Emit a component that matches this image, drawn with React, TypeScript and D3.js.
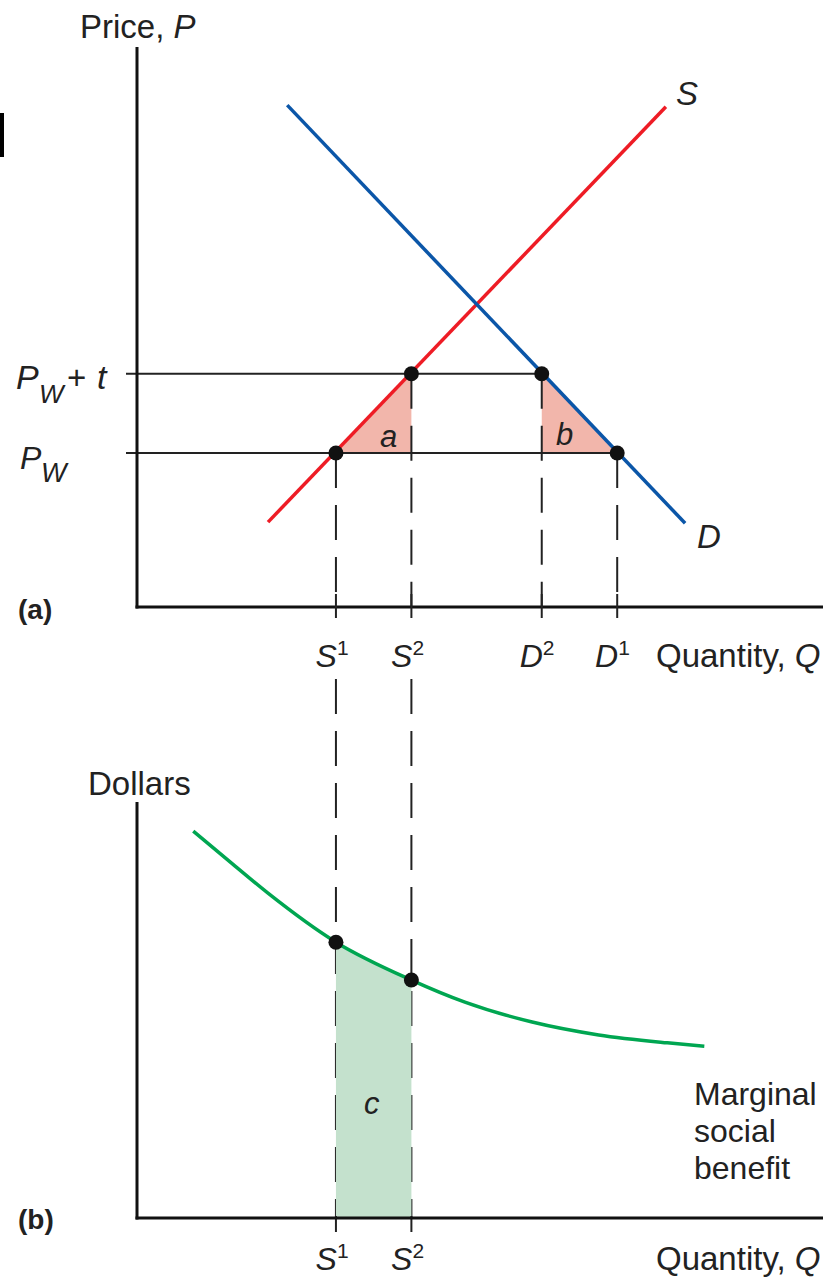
import React from "react";
import * as d3 from "d3";

// quantities on the horizontal axis (same scale in both panels)
const Q_S1 = 29;
const Q_S2 = 40;
const Q_D2 = 59;
const Q_D1 = 70;

// prices
const P_W = 27.4;
const P_WT = 41.5;

const supplyLine: [number, number][] = [
  [19.1, 15.1],
  [77.1, 89.0],
];
const demandLine: [number, number][] = [
  [21.9, 89.3],
  [79.9, 14.9],
];

// marginal social benefit curve, panel (b)
const msbCurve: [number, number][] = [
  [8.2, 93.0],
  [14.0, 85.0],
  [19.0, 78.2],
  [29, 66.3],
  [40, 57.2],
  [47.8, 51.9],
  [57.6, 47.1],
  [67.3, 44.0],
  [77.3, 42.1],
  [82.7, 41.3],
];
const MSB_S1 = 66.3;
const MSB_S2 = 57.2;

const topTicks = [
  { q: Q_S1, name: "S", sup: "1" },
  { q: Q_S2, name: "S", sup: "2" },
  { q: Q_D2, name: "D", sup: "2" },
  { q: Q_D1, name: "D", sup: "1" },
];
const bottomTicks = [
  { q: Q_S1, name: "S", sup: "1" },
  { q: Q_S2, name: "S", sup: "2" },
];
const msbLabel = ["Marginal", "social", "benefit"];

const FONT = "'Liberation Sans', Arial, Helvetica, sans-serif";
const RED = "#ee1c25";
const BLUE = "#0b56a8";
const GREEN = "#00a651";
const PINK = "#f2b6ab";
const MINT = "#c4e1cd";
const DASH = "35 17";

export default function App() {
  const x = d3.scaleLinear().domain([0, 100]).range([137, 823]);
  const yTop = d3.scaleLinear().domain([0, 100]).range([607, 45]);
  const yBot = d3.scaleLinear().domain([0, 100]).range([1218, 802]);

  const line = (ys: d3.ScaleLinear<number, number>) =>
    d3.line<[number, number]>().x((d) => x(d[0])).y((d) => ys(d[1]));

  const msbPath = d3
    .line<[number, number]>()
    .x((d) => x(d[0]))
    .y((d) => yBot(d[1]))
    .curve(d3.curveMonotoneX)(msbCurve);
  const msbArea = d3
    .area<[number, number]>()
    .x((d) => x(d[0]))
    .y0(yBot(0))
    .y1((d) => yBot(d[1]))
    .curve(d3.curveMonotoneX)(msbCurve);

  const triA: [number, number][] = [
    [Q_S1, P_W],
    [Q_S2, P_WT],
    [Q_S2, P_W],
  ];
  const triB: [number, number][] = [
    [Q_D2, P_WT],
    [Q_D2, P_W],
    [Q_D1, P_W],
  ];
  const poly = (pts: [number, number][]) =>
    pts.map((p) => `${x(p[0])},${yTop(p[1])}`).join(" ");

  const label = (t: { q: number; name: string; sup: string }, baseline: number, i: number) => (
    <g key={i}>
      <text x={x(t.q) + 1} y={baseline} textAnchor="end" fontSize={32} fontStyle="italic" fontFamily={FONT}>
        {t.name}
      </text>
      <text x={x(t.q) + 1} y={baseline - 12} fontSize={21} fontFamily={FONT}>
        {t.sup}
      </text>
    </g>
  );

  return (
    <svg width={833} height={1283} style={{ position: "absolute", left: 0, top: 0 }}>
      <rect width={833} height={1283} fill="#fff" />
      <rect x={0} y={113} width={4} height={44} fill="#000" />

      {/* ---------- panel (a) ---------- */}
      <polygon points={poly(triA)} fill={PINK} />
      <polygon points={poly(triB)} fill={PINK} />

      {/* price lines */}
      <line x1={126} x2={x(Q_D2)} y1={yTop(P_WT)} y2={yTop(P_WT)} stroke="#222" strokeWidth={2} />
      <line x1={126} x2={x(Q_D1)} y1={yTop(P_W)} y2={yTop(P_W)} stroke="#222" strokeWidth={2} />

      {/* dashed drop lines */}
      <line x1={x(Q_S1)} x2={x(Q_S1)} y1={yTop(P_W)} y2={yTop(0)} stroke="#222" strokeWidth={2} strokeDasharray={DASH} />
      <line x1={x(Q_S2)} x2={x(Q_S2)} y1={yTop(P_WT)} y2={yTop(0)} stroke="#222" strokeWidth={2} strokeDasharray={DASH} />
      <line x1={x(Q_D2)} x2={x(Q_D2)} y1={yTop(P_WT)} y2={yTop(0)} stroke="#222" strokeWidth={2} strokeDasharray={DASH} />
      <line x1={x(Q_D1)} x2={x(Q_D1)} y1={yTop(P_W)} y2={yTop(0)} stroke="#222" strokeWidth={2} strokeDasharray={DASH} />
      {[Q_S1, Q_S2].map((q, i) => (
        <line key={i} x1={x(q)} x2={x(q)} y1={679} y2={yBot(0)} stroke="#222" strokeWidth={2} strokeDasharray={DASH} />
      ))}

      <path d={line(yTop)(supplyLine) || ""} stroke={RED} strokeWidth={3.5} fill="none" />
      <path d={line(yTop)(demandLine) || ""} stroke={BLUE} strokeWidth={3.5} fill="none" />

      {/* axes */}
      <line x1={137} x2={137} y1={yTop(100) + 2} y2={yTop(0) + 1.5} stroke="#111" strokeWidth={3} />
      <line x1={135.5} x2={823} y1={yTop(0)} y2={yTop(0)} stroke="#111" strokeWidth={3} />
      {topTicks.map((t, i) => (
        <line key={i} x1={x(t.q)} x2={x(t.q)} y1={yTop(0) - 13} y2={yTop(0) + 11} stroke="#222" strokeWidth={2} />
      ))}

      {[
        [Q_S1, P_W],
        [Q_S2, P_WT],
        [Q_D2, P_WT],
        [Q_D1, P_W],
      ].map((p, i) => (
        <circle key={i} cx={x(p[0])} cy={yTop(p[1])} r={7.5} fill="#111" />
      ))}

      <g fontFamily={FONT} fill="#222">
        <text x={80} y={38} fontSize={33}>
          Price, <tspan fontStyle="italic">P</tspan>
        </text>
        <text x={676} y={105} fontSize={33} fontStyle="italic">S</text>
        <text x={697} y={548} fontSize={33} fontStyle="italic">D</text>
        <text x={380} y={447} fontSize={31} fontStyle="italic">a</text>
        <text x={556} y={445} fontSize={31} fontStyle="italic">b</text>

        <text x={16} y={389} fontSize={34} fontStyle="italic">P</text>
        <text x={39} y={403} fontSize={26} fontStyle="italic">W</text>
        <text x={67} y={389} fontSize={33}>+</text>
        <text x={97} y={389} fontSize={34} fontStyle="italic">t</text>
        <text x={20} y={469} fontSize={32} fontStyle="italic">P</text>
        <text x={41} y={482} fontSize={27} fontStyle="italic">W</text>

        <text x={18} y={619} fontSize={28} fontWeight="bold">(a)</text>
        {topTicks.map((t, i) => label(t, 667, i))}
        <text x={656} y={667} fontSize={33}>
          Quantity, <tspan fontStyle="italic">Q</tspan>
        </text>
      </g>

      {/* ---------- panel (b) ---------- */}
      <defs>
        <clipPath id="cBand">
          <rect x={x(Q_S1)} y={0} width={x(Q_S2) - x(Q_S1)} height={1283} />
        </clipPath>
      </defs>
      <path d={msbArea || ""} fill={MINT} clipPath="url(#cBand)" />
      {[Q_S1, Q_S2].map((q, i) => (
        <line key={i} x1={x(q)} x2={x(q)} y1={yBot(0) - 2} y2={yBot(0) + 14} stroke="#222" strokeWidth={2} />
      ))}
      <path d={msbPath || ""} stroke={GREEN} strokeWidth={3.5} fill="none" />

      <line x1={137} x2={137} y1={yBot(100)} y2={yBot(0) + 1.5} stroke="#111" strokeWidth={3} />
      <line x1={135.5} x2={823} y1={yBot(0)} y2={yBot(0)} stroke="#111" strokeWidth={3} />

      <circle cx={x(Q_S1)} cy={yBot(MSB_S1)} r={7.5} fill="#111" />
      <circle cx={x(Q_S2)} cy={yBot(MSB_S2)} r={7.5} fill="#111" />

      <g fontFamily={FONT} fill="#222">
        <text x={88} y={795} fontSize={33}>Dollars</text>
        <text x={364} y={1114} fontSize={31} fontStyle="italic">c</text>
        {msbLabel.map((s, i) => (
          <text key={i} x={694} y={1105 + i * 37} fontSize={32}>{s}</text>
        ))}
        <text x={18} y={1229} fontSize={28} fontWeight="bold">(b)</text>
        {bottomTicks.map((t, i) => label(t, 1270, i))}
        <text x={656} y={1270} fontSize={33}>
          Quantity, <tspan fontStyle="italic">Q</tspan>
        </text>
      </g>
    </svg>
  );
}
